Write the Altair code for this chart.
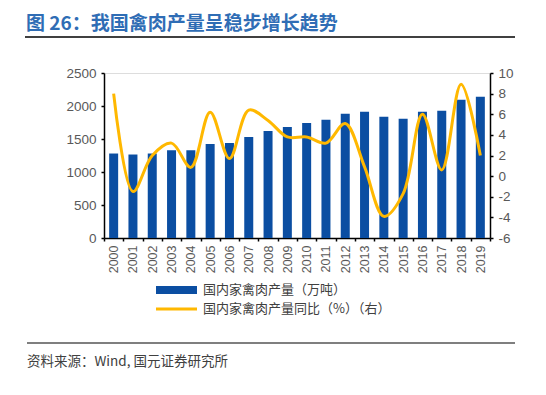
import altair as alt
import pandas as pd

years = [str(y) for y in range(2000, 2020)]
output = [1280, 1265, 1280, 1331, 1331, 1423, 1438, 1529, 1621, 1682,
          1743, 1790, 1881, 1912, 1836, 1805, 1912, 1927, 2094, 2140]
yoy = [8.0, -1.5, 2.0, 3.2, 0.85, 6.2, 1.7, 6.4, 5.4, 3.8,
       3.8, 3.2, 5.1, 0.9, -3.9, -1.7, 6.0, 0.6, 8.9, 2.0]

title_text = "图 26：我国禽肉产量呈稳步增长趋势"
legend_labels = ["国内家禽肉产量（万吨）", "国内家禽肉产量同比（%）（右）"]
source_text = "资料来源：Wind, 国元证券研究所"

df = pd.DataFrame({"year": years, "output": output, "yoy": yoy})

BLUE = "#0B4EA2"
GOLD = "#FFB800"
GRAY = "#595959"
FONT = "Liberation Sans"
CJK = "Noto Sans CJK SC"

W, H = 386, 165

x_enc = alt.X("year:N", sort=years, title=None,
              scale=alt.Scale(paddingInner=0.0, paddingOuter=0.0),
              axis=alt.Axis(labelAngle=-90, labelFont=FONT, labelFontSize=12.5,
                            labelColor=GRAY, labelPadding=4, domainColor="black",
                            domainWidth=1.5, tickColor="black", tickSize=3,
                            tickBand="extent", tickWidth=1.5,
                            labelBaseline="middle", labelAlign="right"))

bars = alt.Chart(df).mark_bar(color=BLUE, width=9).encode(
    x=x_enc,
    y=alt.Y("output:Q", title=None,
            scale=alt.Scale(domain=[0, 2500], nice=False),
            axis=alt.Axis(values=[0, 500, 1000, 1500, 2000, 2500], grid=False,
                          labelExpr="'' + datum.value",
                          labelFont=FONT, labelFontSize=13.5, labelColor=GRAY,
                          domainColor="black", domainWidth=1.5, tickColor="black",
                          tickSize=3, tickWidth=1.5, labelPadding=5))
)

line = alt.Chart(df).mark_line(color=GOLD, strokeWidth=3,
                               interpolate="catmull-rom").encode(
    x=alt.X("year:N", sort=years),
    y=alt.Y("yoy:Q", title=None,
            scale=alt.Scale(domain=[-6, 10], nice=False),
            axis=alt.Axis(orient="right", values=list(range(-6, 11, 2)), grid=False,
                          labelExpr="'' + datum.value",
                          labelFont=FONT, labelFontSize=13.5, labelColor=GRAY,
                          domainColor="black", domainWidth=1.5, tickColor="black",
                          tickSize=3, tickWidth=1.5, labelPadding=5))
)

# Decorations (title, rules, legend, source)
title = alt.Chart(pd.DataFrame({"t": [title_text]})).mark_text(
    align="left", baseline="middle", font=CJK, fontSize=19, fontWeight="bold",
    color="#2F6DB5").encode(text="t:N", x=alt.value(-78), y=alt.value(-49))

top_rule = alt.Chart(pd.DataFrame({"a": [0]})).mark_rule(
    color="black", strokeWidth=1.5).encode(
    x=alt.value(-79), x2=alt.value(411), y=alt.value(-36))

bottom_rule = alt.Chart(pd.DataFrame({"a": [0]})).mark_rule(
    color="black", strokeWidth=1.2).encode(
    x=alt.value(-77), x2=alt.value(411), y=alt.value(270))

source = alt.Chart(pd.DataFrame({"t": [source_text]})).mark_text(
    align="left", baseline="middle", font=CJK, fontSize=13.5,
    color="#404040").encode(text="t:N", x=alt.value(-77), y=alt.value(289))

leg_rect = alt.Chart(pd.DataFrame({"a": [0]})).mark_rect(color=BLUE).encode(
    x=alt.value(52), x2=alt.value(93), y=alt.value(213), y2=alt.value(221))

leg_line = alt.Chart(pd.DataFrame({"a": [0]})).mark_rule(
    color=GOLD, strokeWidth=3).encode(
    x=alt.value(52), x2=alt.value(93), y=alt.value(236))

leg_text = alt.Chart(pd.DataFrame({"t": legend_labels, "yy": [217, 236]})).mark_text(
    align="left", baseline="middle", font=CJK, fontSize=13,
    color="#404040").encode(text="t:N", x=alt.value(99),
                            y=alt.Y("yy:Q", scale=None))

chart = alt.layer(bars, line).resolve_scale(y="independent")
chart = alt.layer(chart, title, top_rule, bottom_rule, source,
                  leg_rect, leg_line, leg_text).properties(
    width=W, height=H,
    autosize=alt.AutoSizeParams(type="none"),
    padding={"left": 96, "top": 65, "right": 48, "bottom": 149},
).configure_view(stroke=None).configure(background="white")

chart.save("out.html", embed_options={"renderer": "svg", "actions": False})
